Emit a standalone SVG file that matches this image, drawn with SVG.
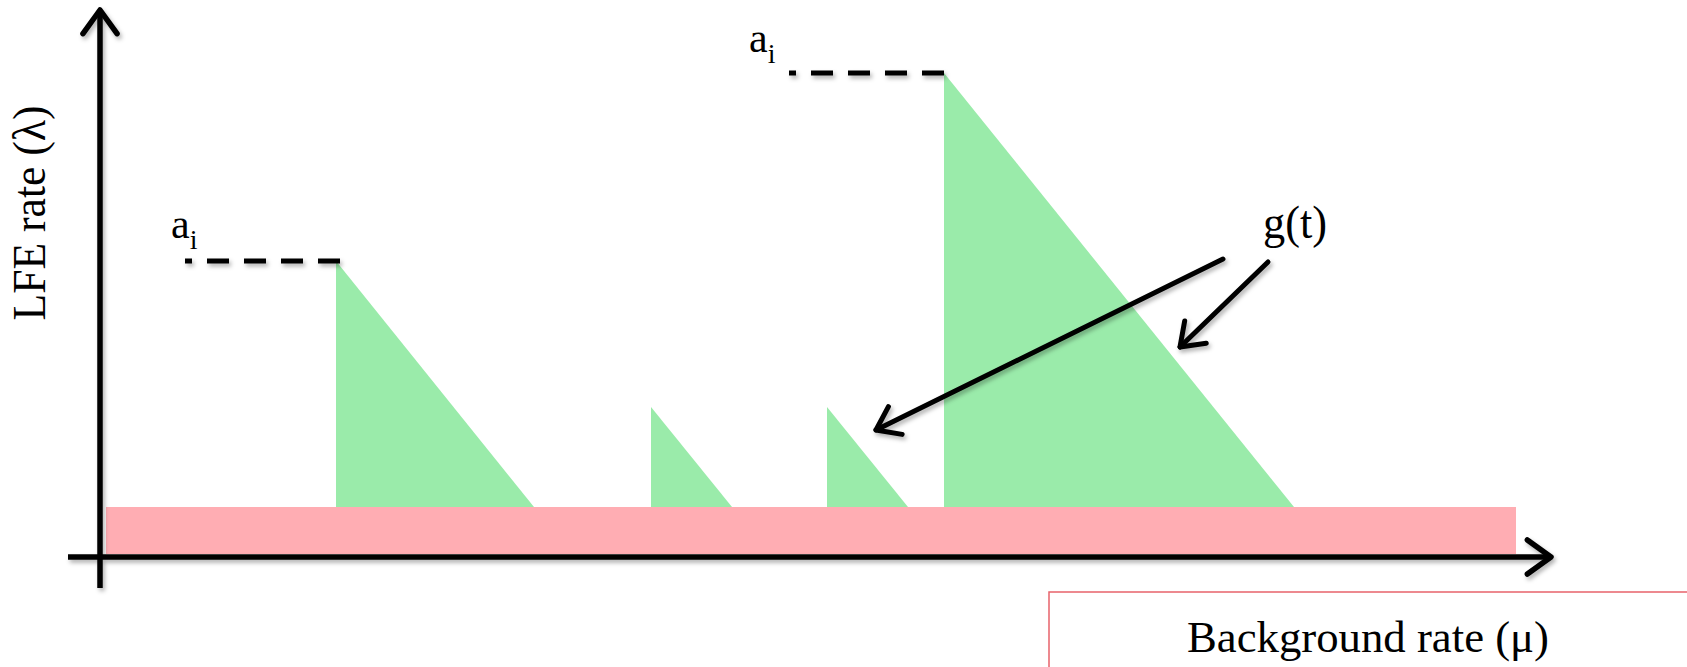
<svg xmlns="http://www.w3.org/2000/svg" width="1687" height="667" viewBox="0 0 1687 667">
<style>
.txt{font-family:"Liberation Serif","DejaVu Serif",serif;fill:#000}
.ax{stroke:#000;stroke-width:5.5;fill:none;stroke-linecap:butt}
.arr{stroke:#000;stroke-width:5;fill:none;stroke-linecap:round}
.dash{stroke:#000;stroke-width:5;fill:none;stroke-dasharray:22 15}
.green{fill:#9AEBAA}
</style>
<defs>
<filter id="sh" x="-10%" y="-10%" width="120%" height="130%">
<feDropShadow dx="2" dy="3" stdDeviation="2" flood-color="#000" flood-opacity="0.3"/>
</filter>
<marker id="head" viewBox="-6 -5 7 10" markerWidth="7" markerHeight="10" refX="0" refY="0" orient="auto" markerUnits="strokeWidth" overflow="visible">
<path d="M-4.3,-3.1 L0,0 L-4.3,3.1" fill="none" stroke="#000" stroke-width="1" stroke-linecap="round" stroke-linejoin="round"/>
</marker>
</defs>
<rect width="1687" height="667" fill="#fff"/>
<g id="background-bar"><rect x="106" y="507" width="1410" height="47" fill="#FFADB3"/></g>
<g id="spike1"><polygon class="green" points="336,261 534,507 336,507"/></g>
<g id="spike2"><polygon class="green" points="651,407 732,507 651,507"/></g>
<g id="spike3"><polygon class="green" points="827,407 908,507 827,507"/></g>
<g id="spike4"><polygon class="green" points="944,73 1294,507 944,507"/></g>
<g id="axes" filter="url(#sh)">
<path class="ax" d="M100,588 L100,10" marker-end="url(#head)"/>
<path class="ax" d="M68,557 L1551,557" marker-end="url(#head)"/>
</g>
<g id="dashes" filter="url(#sh)">
<path class="dash" d="M340,261 L185,261"/>
<path class="dash" d="M944,73 L789,73"/>
</g>
<g id="connectors" filter="url(#sh)">
<path class="arr" d="M1223,259 L876,430" marker-end="url(#head)"/>
<path class="arr" d="M1268,262 L1180,347" marker-end="url(#head)"/>
</g>
<g id="label-ai-1"><text class="txt" x="171" y="238" font-size="42">a<tspan font-size="28" dy="11">i</tspan></text></g>
<g id="label-ai-2"><text class="txt" x="749" y="52" font-size="42">a<tspan font-size="28" dy="11">i</tspan></text></g>
<g id="label-gt"><text class="txt" x="1263" y="238" font-size="46" textLength="64" lengthAdjust="spacingAndGlyphs">g(t)</text></g>
<g id="y-label"><text class="txt" transform="translate(45,213) rotate(-90)" text-anchor="middle" font-size="46" textLength="215" lengthAdjust="spacingAndGlyphs">LFE rate (λ)</text></g>
<g id="x-label">
<rect x="1049" y="592" width="700" height="100" fill="none" stroke="#E8636B" stroke-width="1.5"/>
<text class="txt" x="1187" y="652" font-size="45" textLength="362" lengthAdjust="spacingAndGlyphs">Background rate (μ)</text>
</g>
</svg>
